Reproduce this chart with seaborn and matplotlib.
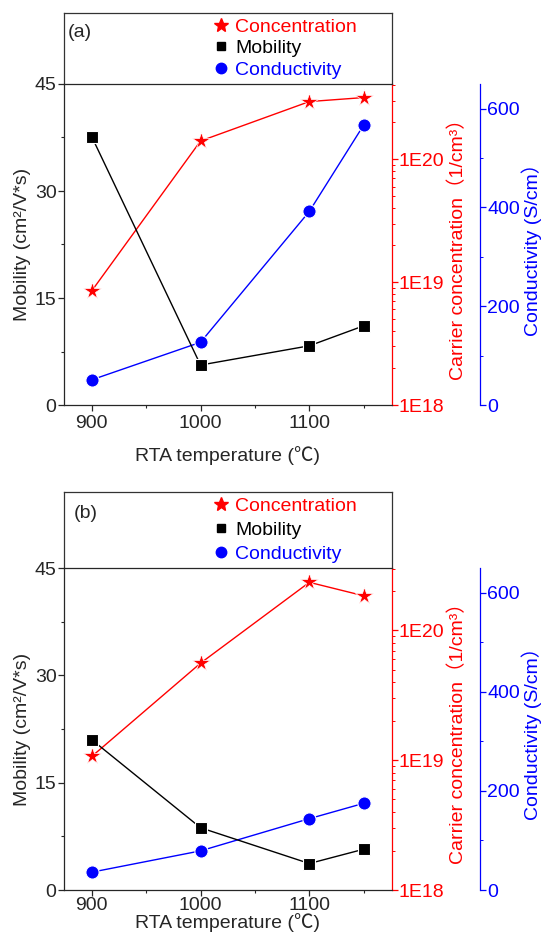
import numpy as np
import pandas as pd
import seaborn as sns
import matplotlib
matplotlib.use("Agg")
import matplotlib.pyplot as plt
from matplotlib.lines import Line2D
from matplotlib.ticker import MultipleLocator, FixedLocator, NullFormatter

# data
temps = [900, 1000, 1100, 1150]

mobility_a = [37.6, 5.6, 8.3, 11.1]
concentration_a = [8.5e18, 1.41e20, 2.95e20, 3.18e20]
conductivity_a = [51, 127, 392, 567]

mobility_b = [21.0, 8.7, 3.7, 5.7]
concentration_b = [1.07e19, 5.6e19, 2.35e20, 1.85e20]
conductivity_b = [36, 79, 144, 175]

legend_labels = ["Concentration", "Mobility", "Conductivity"]
panel_tags = ["(a)", "(b)"]

sns.set_style("ticks")
plt.rcParams["font.family"] = ["Liberation Sans", "Noto Sans CJK SC", "DejaVu Sans"]
plt.rcParams["axes.linewidth"] = 0.9

FS = 14
fig = plt.figure(figsize=(5.45, 9.46), dpi=100)

L, W = 63.5 / 545, 328.5 / 545
H = 946


def panel(bot_px, top_px, head_px, mob, conc, cond, tag, red_top,
          xpad, xlabelpad, tag_x, legspace):
    b = 1 - bot_px / H
    t = 1 - top_px / H
    ht = 1 - head_px / H
    ax = fig.add_axes([L, b, W, t - b])
    head = fig.add_axes([L, t, W, ht - t])

    df = pd.DataFrame({"T": temps, "mob": mob, "conc": conc, "cond": cond})

    # mobility on left axis
    sns.lineplot(data=df, x="T", y="mob", ax=ax, color="black", marker="s",
                 markersize=8.5, markeredgecolor="white", markeredgewidth=0.8,
                 linewidth=1.0, zorder=3)
    ax.set_xlim(874, 1176)
    ax.set_ylim(0, 45)
    ax.yaxis.set_major_locator(MultipleLocator(15))
    ax.yaxis.set_minor_locator(MultipleLocator(7.5))
    ax.xaxis.set_major_locator(FixedLocator([900, 1000, 1100]))
    ax.xaxis.set_minor_locator(FixedLocator([950, 1050, 1150]))
    ax.tick_params(axis="both", which="major", labelsize=FS, length=4, width=0.9,
                   direction="out", pad=1)
    ax.tick_params(axis="x", which="major", pad=xpad)
    ax.tick_params(axis="both", which="minor", length=2.5, width=0.8, direction="out")
    ax.spines["right"].set_visible(False)
    ax.set_xlabel("RTA temperature (℃)", fontsize=FS, labelpad=xlabelpad)
    ax.set_ylabel("Mobility (cm²/V*s)", fontsize=FS, labelpad=3)

    # concentration on red log axis
    axr = ax.twinx()
    sns.lineplot(data=df, x="T", y="conc", ax=axr, color="red", marker="*",
                 markersize=13, markeredgecolor="white", markeredgewidth=0.5,
                 linewidth=1.0)
    axr.set_yscale("log")
    axr.set_ylim(1e18, red_top)
    axr.set_yticks([1e18, 1e19, 1e20])
    axr.set_yticklabels(["1E18", "1E19", "1E20"])
    axr.yaxis.set_minor_formatter(NullFormatter())
    for s in ["left", "top", "bottom"]:
        axr.spines[s].set_visible(False)
    axr.spines["right"].set_color("red")
    axr.tick_params(axis="y", which="both", colors="red", labelcolor="red", direction="out")
    axr.tick_params(axis="y", which="major", labelsize=FS, length=4, width=0.9, pad=1)
    axr.tick_params(axis="y", which="minor", length=2.5, width=0.7)
    axr.set_ylabel("Carrier concentration（1/cm³）", color="red", fontsize=FS, labelpad=3)

    # conductivity on blue offset axis
    axb = ax.twinx()
    sns.lineplot(data=df, x="T", y="cond", ax=axb, color="blue", marker="o",
                 markersize=9.5, markeredgecolor="white", markeredgewidth=0.8,
                 linewidth=1.0)
    axb.set_ylim(0, 650)
    axb.yaxis.set_major_locator(MultipleLocator(200))
    axb.yaxis.set_minor_locator(MultipleLocator(100))
    for s in ["left", "top", "bottom"]:
        axb.spines[s].set_visible(False)
    axb.spines["right"].set_position(("outward", 63.4))
    axb.spines["right"].set_color("blue")
    axb.tick_params(axis="y", which="both", colors="blue", labelcolor="blue", direction="out")
    axb.tick_params(axis="y", which="major", labelsize=FS, length=4, width=0.9, pad=1)
    axb.tick_params(axis="y", which="minor", length=2.5, width=0.7)
    axb.set_ylabel("Conductivity (S/cm）", color="blue", fontsize=FS, labelpad=1)

    ax.set_zorder(axr.get_zorder() + 2)
    ax.patch.set_visible(False)
    ax.set_xlim(874, 1176)

    # header box with legend
    head.set_xticks([])
    head.set_yticks([])
    head.spines["bottom"].set_visible(False)
    for s in ["left", "right", "top"]:
        head.spines[s].set_color("#333333")
    head.text(tag_x, 0.72, tag, transform=head.transAxes, fontsize=FS, va="center")
    handles = [
        Line2D([], [], color="red", marker="*", linestyle="none", markersize=10),
        Line2D([], [], color="black", marker="s", linestyle="none", markersize=5.5),
        Line2D([], [], color="blue", marker="o", linestyle="none", markersize=7.5),
    ]
    leg = head.legend(handles, legend_labels, loc="center left",
                      bbox_to_anchor=(0.45, 0.5), frameon=False, fontsize=FS,
                      handlelength=0.8, handletextpad=0.32, labelspacing=legspace,
                      borderpad=0.1, borderaxespad=0)
    for txt, c in zip(leg.get_texts(), ["red", "black", "blue"]):
        txt.set_color(c)


panel(405, 84, 13, mobility_a, concentration_a, conductivity_a, panel_tags[0],
      4.1e20, 3, 10, 0.012, 0.2)
panel(890, 568, 492, mobility_b, concentration_b, conductivity_b, panel_tags[1],
      3.03e20, 1, -1, 0.03, 0.33)

fig.savefig("out.png", dpi=100)
